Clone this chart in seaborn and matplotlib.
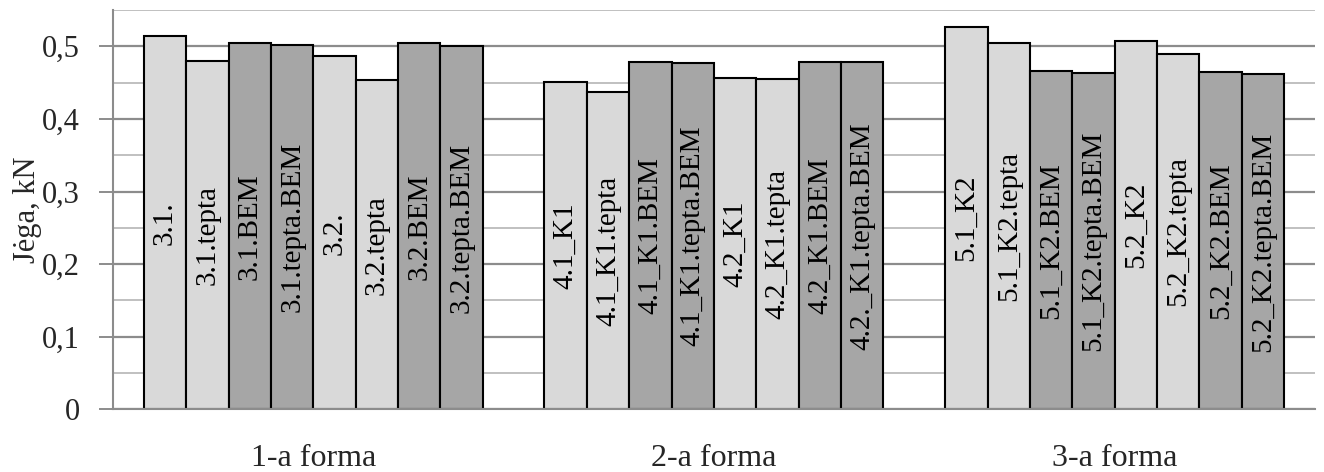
import matplotlib
matplotlib.use("Agg")
import matplotlib.pyplot as plt
from matplotlib.ticker import FixedLocator, FuncFormatter
import pandas as pd
import seaborn as sns

# Load forms (categories) and the eight test variants inside each
groups = ["1-a forma", "2-a forma", "3-a forma"]

labels_1 = ["3.1.", "3.1.tepta", "3.1.BEM", "3.1.tepta.BEM",
            "3.2.", "3.2.tepta", "3.2.BEM", "3.2.tepta.BEM"]
labels_2 = ["4.1_K1", "4.1_K1.tepta", "4.1_K1.BEM", "4.1_K1.tepta.BEM",
            "4.2_K1", "4.2_K1.tepta", "4.2_K1.BEM", "4.2._K1.tepta.BEM"]
labels_3 = ["5.1_K2", "5.1_K2.tepta", "5.1_K2.BEM", "5.1_K2.tepta.BEM",
            "5.2_K2", "5.2_K2.tepta", "5.2_K2.BEM", "5.2_K2.tepta.BEM"]

# Force, kN
values_1 = [0.514, 0.480, 0.504, 0.502, 0.486, 0.453, 0.504, 0.501]
values_2 = [0.451, 0.437, 0.478, 0.477, 0.457, 0.455, 0.479, 0.478]
values_3 = [0.527, 0.504, 0.466, 0.463, 0.507, 0.490, 0.464, 0.462]

y_ticks = [0.0, 0.1, 0.2, 0.3, 0.4, 0.5]
y_minor = [0.05, 0.15, 0.25, 0.35, 0.45, 0.55]

slots = [str(i) for i in range(1, 9)]
light, dark = "#D9D9D9", "#A6A6A6"
slot_colors = dict(zip(slots, [light, light, dark, dark, light, light, dark, dark]))

all_labels = [labels_1, labels_2, labels_3]
all_values = [values_1, values_2, values_3]
rows = []
for g, labs, vals in zip(groups, all_labels, all_values):
    for s, lab, v in zip(slots, labs, vals):
        rows.append({"forma": g, "slot": s, "label": lab, "jega": v})
df = pd.DataFrame(rows)

sns.set_style("white")
plt.rcParams["font.family"] = ["Liberation Serif", "DejaVu Serif"]

fig = plt.figure(figsize=(13.24, 4.72), dpi=100)
ax = fig.add_axes([0.0853, 0.1328, 0.9079, 0.8460])

sns.barplot(data=df, x="forma", y="jega", hue="slot", order=groups,
            hue_order=slots, palette=slot_colors, width=0.846,
            edgecolor="black", linewidth=1.5, saturation=1,
            errorbar=None, legend=False, ax=ax)

for i, cont in enumerate(ax.containers):
    ax.bar_label(cont, labels=[labs[i] for labs in all_labels],
                 label_type="center", rotation=90, fontsize=21,
                 color="black")

ax.set_xlim(-0.5, 2.5)
ax.set_ylim(0, 0.55)
ax.set_axisbelow(True)

ax.yaxis.set_major_locator(FixedLocator(y_ticks))
ax.yaxis.set_minor_locator(FixedLocator(y_minor))
ax.yaxis.set_major_formatter(
    FuncFormatter(lambda v, p: "0" if v == 0 else f"{v:.1f}".replace(".", ",")))
ax.grid(True, axis="y", which="major", color="#8C8C8C", linewidth=1.6)
ax.grid(True, axis="y", which="minor", color="#C0C0C0", linewidth=1.4)
ax.grid(False, axis="x", which="both")

ax.xaxis.set_minor_locator(FixedLocator([-0.5, 0.5, 1.5]))
ax.tick_params(axis="x", which="major", length=0, pad=25, labelsize=23)
ax.tick_params(axis="x", which="minor", length=8, width=1.4, color="#8C8C8C",
               direction="out")
ax.tick_params(axis="y", which="major", length=10, width=1.4, color="#8C8C8C",
               direction="out", pad=14, labelsize=22, left=True)
ax.tick_params(axis="y", which="minor", length=0)

for side in ["top", "right"]:
    ax.spines[side].set_visible(False)
for side in ["left", "bottom"]:
    ax.spines[side].set_color("#8C8C8C")
    ax.spines[side].set_linewidth(1.5)

ax.set_xlabel("")
ax.set_ylabel("Jėga, kN", fontsize=22, labelpad=0)

fig.savefig("out.png", dpi=100)
